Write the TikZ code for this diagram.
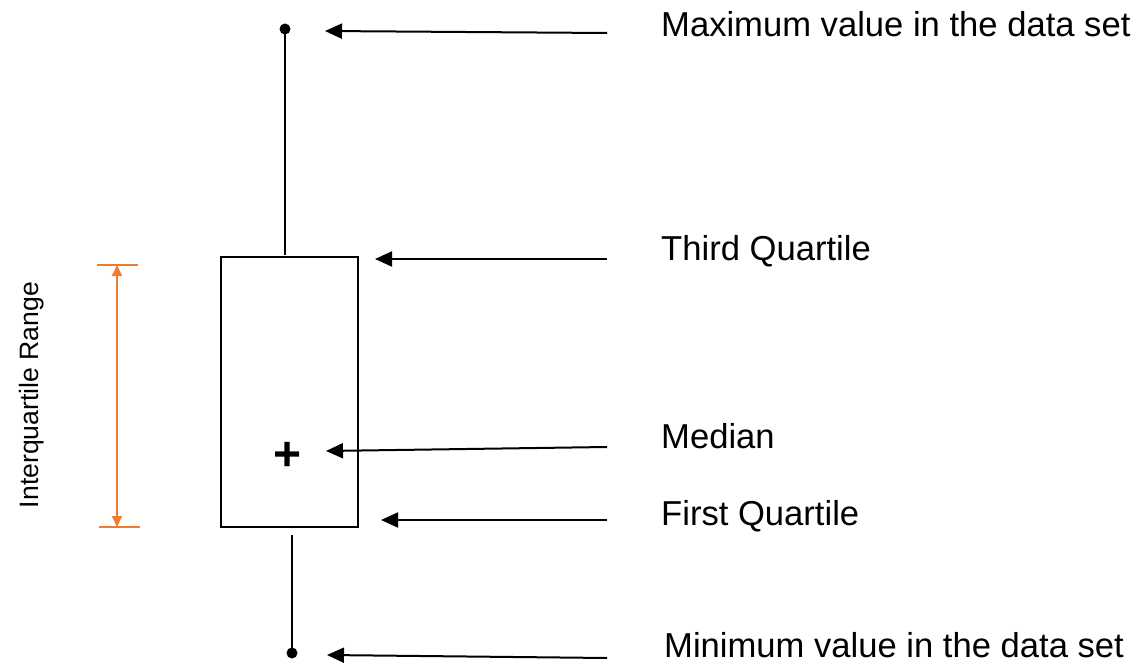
\documentclass[tikz,border=0pt]{standalone}
\usepackage{fontspec}
\setmainfont{Liberation Sans}
\usetikzlibrary{arrows.meta}
\definecolor{iqr}{RGB}{237,125,49}
\begin{document}
\begin{tikzpicture}[x=1pt,y=-1pt,
  lbl/.style={anchor=base west,inner sep=0pt,font=\fontsize{34.6}{40}\selectfont},
  pointer/.style={line width=2pt,-{Triangle[length=17pt,width=15pt]}},
  whisker/.style={line width=2.6pt},
  enddot/.style={circle,fill=black,inner sep=0pt,minimum size=11pt},
  iqrline/.style={draw=iqr,line width=2pt},
]
\useasboundingbox (0,0) rectangle (1135,663);
% box
\node[draw,line width=1.3pt,minimum width=137pt,minimum height=270pt,inner sep=0pt] (box) at (289.5,392) {};
% whiskers
\node[enddot] (maxdot) at (285,29) {};
\node[enddot] (mindot) at (292,653) {};
\coordinate (topw) at (285,255);
\coordinate (botw) at (292,535);
\draw[whisker] (maxdot.center) -- (topw);
\draw[whisker] (botw) -- (mindot.center);
% median
\node[inner sep=0pt,font=\bfseries\fontsize{48}{50}\selectfont] (med) at (288,456) {+};
% labels
\node[lbl] (lmax) at (661,37) {Maximum value in the data set};
\node[lbl] (lq3) at (661,260) {Third Quartile};
\node[lbl] (lmed) at (661,448) {Median};
\node[lbl] (lq1) at (661,525) {First Quartile};
\node[lbl] (lmin) at (664,657) {Minimum value in the data set};
% arrow start and end points
\coordinate (smax) at (607,33);
\coordinate (emax) at (325,31);
\coordinate (sq3) at (607,259);
\coordinate (eq3) at (375,259);
\coordinate (smed) at (607,447);
\coordinate (emed) at (326,451);
\coordinate (sq1) at (607,520);
\coordinate (eq1) at (381,520);
\coordinate (smin) at (607,658);
\coordinate (emin) at (327,655);
\draw[pointer] (smax) -- (emax);
\draw[pointer] (sq3) -- (eq3);
\draw[pointer] (smed) -- (emed);
\draw[pointer] (sq1) -- (eq1);
\draw[pointer] (smin) -- (emin);
% interquartile range
\coordinate (capTl) at (97,265);
\coordinate (capTr) at (138,265);
\coordinate (capBl) at (99,527);
\coordinate (capBr) at (140,527);
\coordinate (iqrT) at (117,265);
\coordinate (iqrB) at (117,527);
\draw[iqrline] (capTl) -- (capTr);
\draw[iqrline] (capBl) -- (capBr);
\draw[iqrline,{Triangle[length=11pt,width=10pt]}-{Triangle[length=11pt,width=10pt]},fill=iqr] (iqrT) -- (iqrB);
\node[rotate=90,inner sep=0pt,font=\fontsize{26.6}{30}\selectfont] (iqrlbl) at (32,395) {Interquartile Range};
\end{tikzpicture}
\end{document}
